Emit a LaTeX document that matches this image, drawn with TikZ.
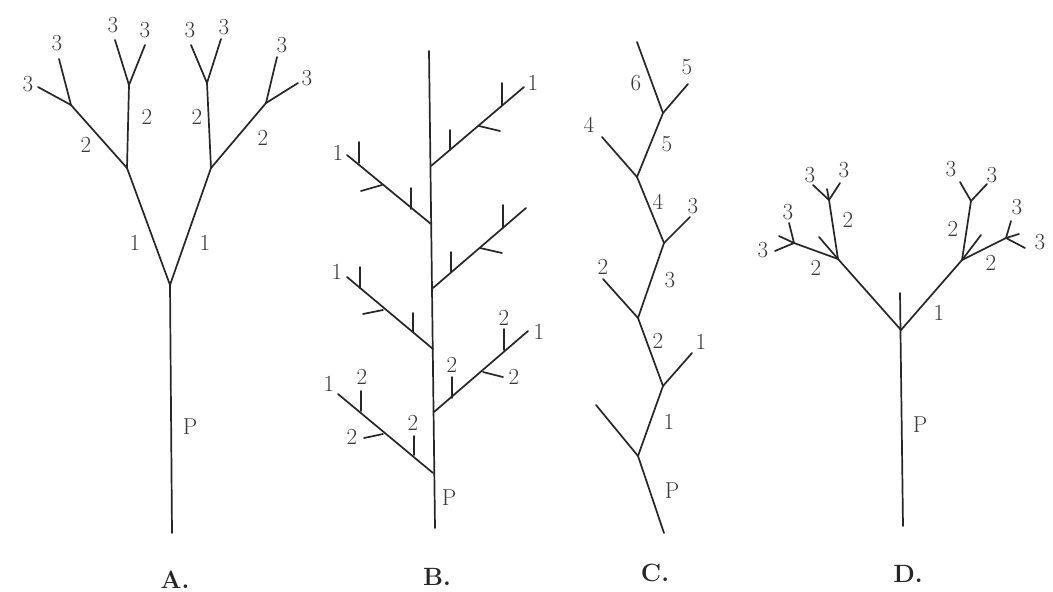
\documentclass[tikz,border=0pt]{standalone}
\begin{document}
\begin{tikzpicture}[x=1pt,y=-1pt,
  br/.style={line width=1.7pt, draw=black!85, line cap=round},
  lbl/.style={font=\fontsize{23}{26}\selectfont, text=black!78, inner sep=0pt},
  capt/.style={font=\bfseries\fontsize{25}{28}\selectfont, text=black!85, inner sep=0pt}]
\useasboundingbox (0,0) rectangle (1053,592);
\fill[white] (0,0) rectangle (1053,592);
% ================= A =================
\coordinate (a0) at (172,533);
\coordinate (a1) at (170,285);
\coordinate (aL) at (127,168);
\coordinate (aR) at (211,168);
\coordinate (aLL) at (71,105);
\coordinate (aLU) at (129,85);
\coordinate (aRU) at (207,83);
\coordinate (aRR) at (266,103);
\coordinate (aLL1) at (38,87);
\coordinate (aLL2) at (59,59);
\coordinate (aLU1) at (115,40);
\coordinate (aLU2) at (145,45);
\coordinate (aRU1) at (191,45);
\coordinate (aRU2) at (221,39);
\coordinate (aRR1) at (277,57);
\coordinate (aRR2) at (298,83);
\draw[br] (a0) -- (a1);
\draw[br] (a1) -- (aL);
\draw[br] (a1) -- (aR);
\draw[br] (aL) -- (aLL);
\draw[br] (aL) -- (aLU);
\draw[br] (aR) -- (aRU);
\draw[br] (aR) -- (aRR);
\draw[br] (aLL) -- (aLL1);
\draw[br] (aLL) -- (aLL2);
\draw[br] (aLU) -- (aLU1);
\draw[br] (aLU) -- (aLU2);
\draw[br] (aRU) -- (aRU1);
\draw[br] (aRU) -- (aRU2);
\draw[br] (aRR) -- (aRR1);
\draw[br] (aRR) -- (aRR2);
\node[lbl] (tA1) at (28,84) {3};
\node[lbl] (tA2) at (57,43) {3};
\node[lbl] (tA3) at (113,25) {3};
\node[lbl] (tA4) at (145,30) {3};
\node[lbl] (tA5) at (190,30) {3};
\node[lbl] (tA6) at (224,27) {3};
\node[lbl] (tA7) at (282,45) {3};
\node[lbl] (tA8) at (307,78) {3};
\node[lbl] (tA9) at (86,145) {2};
\node[lbl] (tA10) at (147,117) {2};
\node[lbl] (tA11) at (197,117) {2};
\node[lbl] (tA12) at (263,138) {2};
\node[lbl] (tA13) at (135,243) {1};
\node[lbl] (tA14) at (205,243) {1};
\node[lbl] (tAP) at (190,427) {P};
\node[capt] (capA) at (175,580) {A.};
% ================= B =================
\coordinate (b0) at (435,528);
\coordinate (bT) at (429,51);
\coordinate (bn1) at (433,473);
\coordinate (bn2) at (434,412);
\coordinate (bn3) at (433,349);
\coordinate (bn4) at (433,288);
\coordinate (bn5) at (431,224);
\coordinate (bn6) at (431,166);
\coordinate (be1) at (338,394);
\coordinate (be2) at (528,331);
\coordinate (be3) at (347,277);
\coordinate (be4) at (526,208);
\coordinate (be5) at (347,155);
\coordinate (be6) at (524,87);
\draw[br] (b0) -- (bT);
\draw[br] (bn1) -- (be1);
\draw[br] (bn2) -- (be2);
\draw[br] (bn3) -- (be3);
\draw[br] (bn4) -- (be4);
\draw[br] (bn5) -- (be5);
\draw[br] (bn6) -- (be6);
% ticks on branch 1 (lower left)
\coordinate (b1a) at (414,455); \coordinate (b1ae) at (414,436);
\coordinate (b1b) at (383,434); \coordinate (b1be) at (364,438);
\coordinate (b1c) at (361,411); \coordinate (b1ce) at (361,391);
\draw[br] (b1a) -- (b1ae); \draw[br] (b1b) -- (b1be); \draw[br] (b1c) -- (b1ce);
% ticks on branch 2 (lower right)
\coordinate (b2a) at (452,398); \coordinate (b2ae) at (452,377);
\coordinate (b2b) at (483,372); \coordinate (b2be) at (503,377);
\coordinate (b2c) at (504,350); \coordinate (b2ce) at (504,329);
\draw[br] (b2a) -- (b2ae); \draw[br] (b2b) -- (b2be); \draw[br] (b2c) -- (b2ce);
% ticks on branch 3 (middle left)
\coordinate (b3a) at (413,332); \coordinate (b3ae) at (413,313);
\coordinate (b3b) at (383,310); \coordinate (b3be) at (363,314);
\coordinate (b3c) at (360,288); \coordinate (b3ce) at (360,267);
\draw[br] (b3a) -- (b3ae); \draw[br] (b3b) -- (b3be); \draw[br] (b3c) -- (b3ce);
% ticks on branch 4 (middle right)
\coordinate (b4a) at (451,272); \coordinate (b4ae) at (451,252);
\coordinate (b4b) at (480,248); \coordinate (b4be) at (502,253);
\coordinate (b4c) at (503,228); \coordinate (b4ce) at (503,205);
\draw[br] (b4a) -- (b4ae); \draw[br] (b4b) -- (b4be); \draw[br] (b4c) -- (b4ce);
% ticks on branch 5 (upper left)
\coordinate (b5a) at (411,209); \coordinate (b5ae) at (411,188);
\coordinate (b5b) at (382,185); \coordinate (b5be) at (361,191);
\coordinate (b5c) at (359,163); \coordinate (b5ce) at (359,142);
\draw[br] (b5a) -- (b5ae); \draw[br] (b5b) -- (b5be); \draw[br] (b5c) -- (b5ce);
% ticks on branch 6 (upper right)
\coordinate (b6a) at (450,150); \coordinate (b6ae) at (450,130);
\coordinate (b6b) at (479,126); \coordinate (b6be) at (500,131);
\coordinate (b6c) at (502,105); \coordinate (b6ce) at (502,83);
\draw[br] (b6a) -- (b6ae); \draw[br] (b6b) -- (b6be); \draw[br] (b6c) -- (b6ce);
\node[lbl] (tB1) at (329,384) {1};
\node[lbl] (tB2) at (362,377) {2};
\node[lbl] (tB3) at (352,437) {2};
\node[lbl] (tB4) at (413,423) {2};
\node[lbl] (tB5) at (452,365) {2};
\node[lbl] (tB6) at (514,377) {2};
\node[lbl] (tB7) at (504,318) {2};
\node[lbl] (tB8) at (539,332) {1};
\node[lbl] (tB9) at (337,272) {1};
\node[lbl] (tB10) at (338,153) {1};
\node[lbl] (tB11) at (533,83) {1};
\node[lbl] (tBP) at (449,498) {P};
\node[capt] (capB) at (437,577) {B.};
% ================= C =================
\coordinate (c0) at (664,533);
\coordinate (c1) at (638,456);
\coordinate (c2) at (663,386);
\coordinate (c3) at (638,318);
\coordinate (c4) at (664,243);
\coordinate (c5) at (637,177);
\coordinate (c6) at (663,113);
\coordinate (c7) at (637,42);
\coordinate (cs1) at (596,405);
\coordinate (cs2) at (692,353);
\coordinate (cs3) at (603,279);
\coordinate (cs4) at (690,217);
\coordinate (cs5) at (602,137);
\coordinate (cs6) at (688,84);
\draw[br] (c0) -- (c1) -- (c2) -- (c3) -- (c4) -- (c5) -- (c6) -- (c7);
\draw[br] (c1) -- (cs1);
\draw[br] (c2) -- (cs2);
\draw[br] (c3) -- (cs3);
\draw[br] (c4) -- (cs4);
\draw[br] (c5) -- (cs5);
\draw[br] (c6) -- (cs6);
\node[lbl] (tCP) at (672,491) {P};
\node[lbl] (tC1) at (669,422) {1};
\node[lbl] (tC1b) at (701,342) {1};
\node[lbl] (tC2) at (658,341) {2};
\node[lbl] (tC2b) at (603,267) {2};
\node[lbl] (tC3) at (670,280) {3};
\node[lbl] (tC3b) at (693,206) {3};
\node[lbl] (tC4) at (658,202) {4};
\node[lbl] (tC4b) at (589,125) {4};
\node[lbl] (tC5) at (667,144) {5};
\node[lbl] (tC5b) at (687,67) {5};
\node[lbl] (tC6) at (636,83) {6};
\node[capt] (capC) at (655,573) {C.};
% ================= D =================
\coordinate (d0) at (903,526);
\coordinate (d1) at (901,330);
\coordinate (dT) at (900,293);
\coordinate (dL) at (838,259);
\coordinate (dR) at (962,260);
\coordinate (dLs) at (819,237);
\coordinate (dLU) at (829,200);
\coordinate (dLL) at (794,243);
\coordinate (dLU1) at (813,185);
\coordinate (dLU2) at (840,183);
\coordinate (dLUs) at (827,189);
\coordinate (dLL1) at (789,223);
\coordinate (dLL2) at (775,251);
\coordinate (dLLs) at (779,236);
\coordinate (dRU) at (971,201);
\coordinate (dRR) at (1006,238);
\coordinate (dRs) at (981,235);
\coordinate (dRU1) at (960,182);
\coordinate (dRU2) at (987,184);
\coordinate (dRR1) at (1011,221);
\coordinate (dRR2) at (1025,248);
\coordinate (dRRs) at (1019,234);
\draw[br] (d0) -- (dT);
\draw[br] (d1) -- (dL);
\draw[br] (d1) -- (dR);
\draw[br] (dL) -- (dLs);
\draw[br] (dL) -- (dLU);
\draw[br] (dL) -- (dLL);
\draw[br] (dLU) -- (dLU1);
\draw[br] (dLU) -- (dLU2);
\draw[br] (dLU) -- (dLUs);
\draw[br] (dLL) -- (dLL1);
\draw[br] (dLL) -- (dLL2);
\draw[br] (dLL) -- (dLLs);
\draw[br] (dR) -- (dRs);
\draw[br] (dR) -- (dRU);
\draw[br] (dR) -- (dRR);
\draw[br] (dRU) -- (dRU1);
\draw[br] (dRU) -- (dRU2);
\draw[br] (dRR) -- (dRR1);
\draw[br] (dRR) -- (dRR2);
\draw[br] (dRR) -- (dRRs);
\node[lbl] (tD1) at (939,313) {1};
\node[lbl] (tD2) at (816,268) {2};
\node[lbl] (tD3) at (848,220) {2};
\node[lbl] (tD4) at (953,229) {2};
\node[lbl] (tD5) at (991,263) {2};
\node[lbl] (tD6) at (810,175) {3};
\node[lbl] (tD7) at (844,170) {3};
\node[lbl] (tD8) at (788,212) {3};
\node[lbl] (tD9) at (763,250) {3};
\node[lbl] (tD10) at (951,169) {3};
\node[lbl] (tD11) at (992,175) {3};
\node[lbl] (tD12) at (1017,207) {3};
\node[lbl] (tD13) at (1040,242) {3};
\node[lbl] (tDP) at (920,425) {P};
\node[capt] (capD) at (908,574) {D.};
\end{tikzpicture}
\end{document}
